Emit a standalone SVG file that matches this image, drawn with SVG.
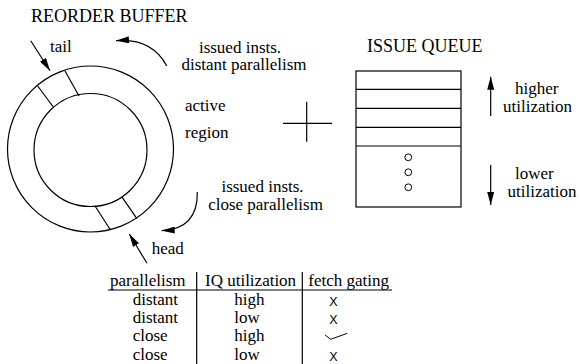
<svg xmlns="http://www.w3.org/2000/svg" width="580" height="364" viewBox="0 0 580 364" font-family="'Liberation Serif', 'DejaVu Serif', serif">
  <style>
    text { font-family: 'Liberation Serif', 'DejaVu Serif', serif; font-size: 17px; fill: #000; }
    .caps { font-size: 18px; }
    .mid { text-anchor: middle; }
    .mark { font-family: 'Liberation Sans', 'DejaVu Sans', sans-serif; font-size: 12.5px; }
    .ln { fill: none; stroke: #000; stroke-width: 1.2; }
    .thin { fill: none; stroke: #000; stroke-width: 1; }
  </style>
  <defs>
    <marker id="arrowBig" viewBox="0 0 13 7" refX="13" refY="3.5" markerWidth="13" markerHeight="7" markerUnits="userSpaceOnUse" orient="auto">
      <path d="M0,0 L13,3.5 L0,7 Z" fill="#000"/>
    </marker>
  </defs>

  <!-- reorder buffer ring -->
  <g id="rob">
    <text class="caps" x="31" y="21.7">REORDER BUFFER</text>
    <circle class="ln" cx="90.5" cy="149" r="83"/>
    <circle class="ln" cx="90.5" cy="150" r="56.5"/>
    <!-- tail slot -->
    <line class="ln" x1="65" y1="71" x2="79" y2="96"/>
    <line class="ln" x1="37.7" y1="86" x2="53.3" y2="107"/>
    <!-- head slot -->
    <line class="ln" x1="95" y1="206" x2="110" y2="229.3"/>
    <line class="ln" x1="121.7" y1="196.7" x2="136.7" y2="218.3"/>
    <text x="185" y="111">active</text>
    <text x="185" y="138">region</text>
  </g>

  <g id="tail-label"><text x="50" y="52">tail</text></g>
  <g id="head-label"><text x="151.7" y="254">head</text></g>

  <g id="distant-label">
    <text class="mid" x="240" y="52.5">issued insts.</text>
    <text class="mid" x="244" y="69.8">distant parallelism</text>
  </g>
  <g id="close-label">
    <text class="mid" x="262.5" y="191.5">issued insts.</text>
    <text class="mid" x="265.5" y="209.5">close parallelism</text>
  </g>

  <!-- plus sign between the structures -->
  <g id="plus">
    <line class="ln" x1="283" y1="123.3" x2="332" y2="123.3"/>
    <line class="ln" x1="306.7" y1="101.7" x2="306.7" y2="141.7"/>
  </g>

  <!-- issue queue -->
  <g id="iq">
    <text class="caps" x="367" y="52">ISSUE QUEUE</text>
    <rect class="ln" x="356" y="71" width="105" height="136"/>
    <line class="ln" x1="356" y1="89.3" x2="461" y2="89.3"/>
    <line class="ln" x1="356" y1="108.3" x2="461" y2="108.3"/>
    <line class="ln" x1="356" y1="127.3" x2="461" y2="127.3"/>
    <line class="ln" x1="356" y1="146" x2="461" y2="146"/>
    <circle class="thin" cx="408.3" cy="157.3" r="3.4"/>
    <circle class="thin" cx="408.3" cy="172.3" r="3.4"/>
    <circle class="thin" cx="408.3" cy="187.3" r="3.4"/>
  </g>

  <g id="higher-label">
    <text x="515" y="94">higher</text>
    <text x="503" y="111.5">utilization</text>
  </g>
  <g id="lower-label">
    <text x="515" y="178.5">lower</text>
    <text x="507.5" y="196.5">utilization</text>
  </g>

  <!-- arrows -->
  <g id="connectors">
    <line class="ln" x1="30.7" y1="40.7" x2="50" y2="70.7" marker-end="url(#arrowBig)"/>
    <line class="ln" x1="147" y1="263.3" x2="129.3" y2="234" marker-end="url(#arrowBig)"/>
    <path class="ln" d="M166.7,66 Q152,38 116,40.7" marker-end="url(#arrowBig)"/>
    <path class="ln" d="M197.3,192 Q198,229 161.7,230.7" marker-end="url(#arrowBig)"/>
    <line class="ln" x1="490.7" y1="116" x2="490.7" y2="76.7" marker-end="url(#arrowBig)"/>
    <line class="ln" x1="490.7" y1="165" x2="490.7" y2="205" marker-end="url(#arrowBig)"/>
  </g>

  <!-- fetch gating decision table -->
  <g id="table">
    <text x="110" y="285.5">parallelism</text>
    <text x="205" y="285.5">IQ utilization</text>
    <text x="308.3" y="285.5">fetch gating</text>
    <line class="ln" x1="108" y1="290" x2="392" y2="290"/>
    <line class="ln" x1="196.7" y1="272" x2="196.7" y2="364"/>
    <line class="ln" x1="302.3" y1="272" x2="302.3" y2="364"/>

    <text x="132.7" y="304.5">distant</text>
    <text x="132.7" y="322.8">distant</text>
    <text x="132.7" y="341.2">close</text>
    <text x="132.7" y="359.5">close</text>

    <text x="234.3" y="304.5">high</text>
    <text x="234.3" y="322.8">low</text>
    <text x="234.3" y="341.2">high</text>
    <text x="234.3" y="359.5">low</text>

    <text class="mark mid" x="333.3" y="305.5">X</text>
    <text class="mark mid" x="333.3" y="324">X</text>
    <polyline class="thin" points="325,335 330.7,339.3 347.3,333.3"/>
    <text class="mark mid" x="333.3" y="360.5">X</text>
  </g>
</svg>
